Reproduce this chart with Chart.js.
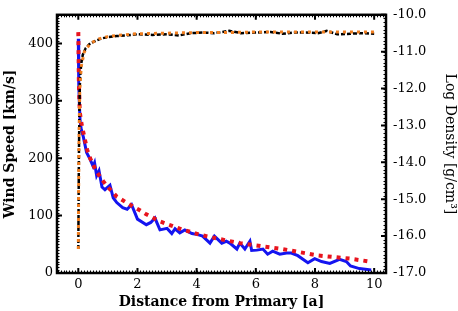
<!DOCTYPE html>
<html>
<head>
<meta charset="utf-8">
<script src="https://cdn.jsdelivr.net/npm/chart.js@4.4.1/dist/chart.umd.min.js"></script>
<style>
  html, body { margin: 0; padding: 0; background: #fff; }
</style>
</head>
<body>
<canvas id="chart" width="458" height="311"></canvas>
<script>
// wind speed, simulation (black dashed) and beta-law fit (orange dotted)
const distSpeedSim = [0, 0.02, 0.04, 0.06, 0.1, 0.15, 0.25, 0.4, 0.6, 0.8, 1.0, 1.3, 1.6, 2.0, 2.5, 3.0, 3.4, 3.8, 4.2, 4.6, 5.1, 5.5, 6.0, 6.5, 6.9, 7.3, 7.7, 8.1, 8.4, 8.75, 9.2, 9.6, 10.0];
const speedSim = [42, 200, 300, 340, 365, 380, 392, 400, 405, 409, 411, 413, 414, 416, 415, 416, 414, 418, 419, 418, 422, 418, 419, 420, 417, 419, 419, 418, 422, 416, 417, 418, 417];
const distSpeedFit = [0, 0.02, 0.05, 0.1, 0.2, 0.4, 0.7, 1.0, 1.5, 2.0, 3.0, 4.0, 5.0, 6.0, 7.0, 8.0, 9.0, 10.0];
const speedFit = [42, 220, 320, 360, 385, 400, 408, 412, 415, 417, 418, 419, 419, 420, 420, 420, 420, 420];

// log density, simulation (blue) and model (red dotted)
const distDensSim = [0, 0.01, 0.02, 0.04, 0.06, 0.1, 0.17, 0.28, 0.4, 0.5, 0.55, 0.62, 0.7, 0.8, 0.9, 1.07, 1.18, 1.3, 1.5, 1.65, 1.8, 2.0, 2.3, 2.45, 2.59, 2.76, 3.0, 3.16, 3.27, 3.43, 3.6, 3.84, 4.04, 4.2, 4.45, 4.6, 4.85, 5.0, 5.12, 5.36, 5.46, 5.63, 5.8, 5.86, 6.03, 6.24, 6.4, 6.57, 6.81, 7.04, 7.2, 7.42, 7.76, 7.99, 8.22, 8.5, 8.83, 9.06, 9.2, 9.5, 9.9];
const densSim = [-10.65, -11.24, -11.87, -12.49, -12.88, -13.11, -13.31, -13.73, -13.92, -14.11, -14.01, -14.36, -14.23, -14.67, -14.74, -14.62, -14.96, -15.09, -15.23, -15.27, -15.15, -15.54, -15.69, -15.63, -15.51, -15.83, -15.79, -15.93, -15.80, -15.91, -15.83, -15.93, -15.96, -16.00, -16.19, -16.00, -16.19, -16.14, -16.19, -16.35, -16.19, -16.35, -16.14, -16.39, -16.38, -16.35, -16.49, -16.41, -16.49, -16.46, -16.46, -16.53, -16.72, -16.61, -16.69, -16.74, -16.63, -16.69, -16.81, -16.88, -16.92];
const distDensModel = [0, 0.02, 0.05, 0.1, 0.17, 0.3, 0.4, 0.6, 0.84, 1.0, 1.3, 1.75, 2.08, 2.3, 2.76, 3.43, 4.1, 4.78, 5.46, 6.0, 6.9, 8.06, 9.17, 9.85];
const densModel = [-10.47, -11.87, -12.64, -12.92, -13.19, -13.66, -13.89, -14.23, -14.51, -14.67, -14.93, -15.15, -15.30, -15.41, -15.60, -15.80, -15.96, -16.08, -16.19, -16.25, -16.35, -16.52, -16.61, -16.69];

const xTicks = [0, 2, 4, 6, 8, 10];
const speedTicks = [0, 100, 200, 300, 400];
const densTicks = [-17, -16, -15, -14, -13, -12, -11, -10];

const pts = (xs, ys) => xs.map((x, i) => ({ x: x, y: ys[i] }));
const serif = 'DejaVu Serif';

const frame = {
  id: 'frame',
  afterDatasetsDraw(chart) {
    const { ctx, chartArea: a, scales } = chart;
    ctx.save();
    ctx.strokeStyle = '#000';
    ctx.beginPath();
    ctx.lineWidth = 1;
    // minor ticks
    for (let v = -0.7; v <= 10.4; v += 0.1) {
      const px = Math.round(scales.x.getPixelForValue(v)) + 0.5;
      ctx.moveTo(px, a.bottom); ctx.lineTo(px, a.bottom - 2.5);
      ctx.moveTo(px, a.top); ctx.lineTo(px, a.top + 2.5);
    }
    for (let v = 0; v <= 450; v += 5) {
      const py = Math.round(scales.y.getPixelForValue(v)) + 0.5;
      ctx.moveTo(a.left, py); ctx.lineTo(a.left + 2.5, py);
    }
    for (let v = -17; v <= -10; v += 0.1) {
      const py = Math.round(scales.y2.getPixelForValue(v)) + 0.5;
      ctx.moveTo(a.right, py); ctx.lineTo(a.right - 2.5, py);
    }
    ctx.stroke();
    // major ticks
    ctx.beginPath();
    ctx.lineWidth = 2;
    xTicks.forEach(v => {
      const px = scales.x.getPixelForValue(v);
      ctx.moveTo(px, a.bottom); ctx.lineTo(px, a.bottom - 5);
      ctx.moveTo(px, a.top); ctx.lineTo(px, a.top + 5);
    });
    speedTicks.forEach(v => {
      const py = scales.y.getPixelForValue(v);
      ctx.moveTo(a.left, py); ctx.lineTo(a.left + 5, py);
    });
    densTicks.forEach(v => {
      const py = scales.y2.getPixelForValue(v);
      ctx.moveTo(a.right, py); ctx.lineTo(a.right - 5, py);
    });
    ctx.stroke();
    ctx.lineWidth = 2.5;
    ctx.strokeRect(a.left, a.top, a.right - a.left, a.bottom - a.top);
    ctx.restore();
  }
};

new Chart(document.getElementById('chart'), {
  type: 'line',
  data: {
    datasets: [
      {
        data: pts(distSpeedFit, speedFit), yAxisID: 'y', order: 1,
        borderColor: '#f07d1e', borderWidth: 3, borderDash: [3, 4]
      },
      {
        data: pts(distSpeedSim, speedSim), yAxisID: 'y', order: 2,
        borderColor: '#000', borderWidth: 2.5, borderDash: [4, 2]
      },
      {
        data: pts(distDensModel, densModel), yAxisID: 'y2', order: 3,
        borderColor: '#e8141e', borderWidth: 4, borderDash: [4, 5]
      },
      {
        data: pts(distDensSim, densSim), yAxisID: 'y2', order: 4,
        borderColor: '#1414f0', borderWidth: 3
      }
    ]
  },
  options: {
    responsive: false,
    animation: false,
    layout: { padding: { top: 5, right: 0, left: 0, bottom: 0 } },
    elements: {
      point: { radius: 0 },
      line: { tension: 0, fill: false }
    },
    scales: {
      x: {
        type: 'linear', min: -0.72, max: 10.4,
        grid: { display: false, drawTicks: false },
        border: { display: false },
        afterBuildTicks: s => { s.ticks = xTicks.map(v => ({ value: v })); },
        afterFit: s => { s.height = 38; },
        ticks: { color: '#000', padding: 4, font: { family: serif, size: 13 } },
        title: {
          display: true, text: 'Distance from Primary [a]', color: '#000',
          padding: { top: 1, bottom: 0 },
          font: { family: serif, size: 14, weight: 'bold' }
        }
      },
      y: {
        position: 'left', min: 0, max: 450,
        grid: { display: false, drawTicks: false },
        border: { display: false },
        afterBuildTicks: s => { s.ticks = speedTicks.map(v => ({ value: v })); },
        afterFit: s => { s.width = 57; },
        ticks: { color: '#000', padding: 4, font: { family: serif, size: 13 } },
        title: {
          display: true, text: 'Wind Speed [km/s]', color: '#000',
          padding: { top: 2, bottom: 0 },
          font: { family: serif, size: 14, weight: 'bold' }
        }
      },
      y2: {
        position: 'right', min: -17, max: -10,
        grid: { display: false, drawTicks: false },
        border: { display: false },
        afterBuildTicks: s => { s.ticks = densTicks.map(v => ({ value: v })); },
        afterFit: s => { s.width = 72; },
        ticks: {
          color: '#000', padding: 7, font: { family: serif, size: 13 },
          callback: v => v.toFixed(1)
        },
        title: {
          display: true, text: 'Log Density [g/cm³]', color: '#000',
          padding: { top: 0, bottom: 0 },
          font: { family: serif, size: 14 }
        }
      }
    },
    plugins: {
      legend: { display: false },
      tooltip: { enabled: false }
    }
  },
  plugins: [frame]
});
</script>
</body>
</html>
